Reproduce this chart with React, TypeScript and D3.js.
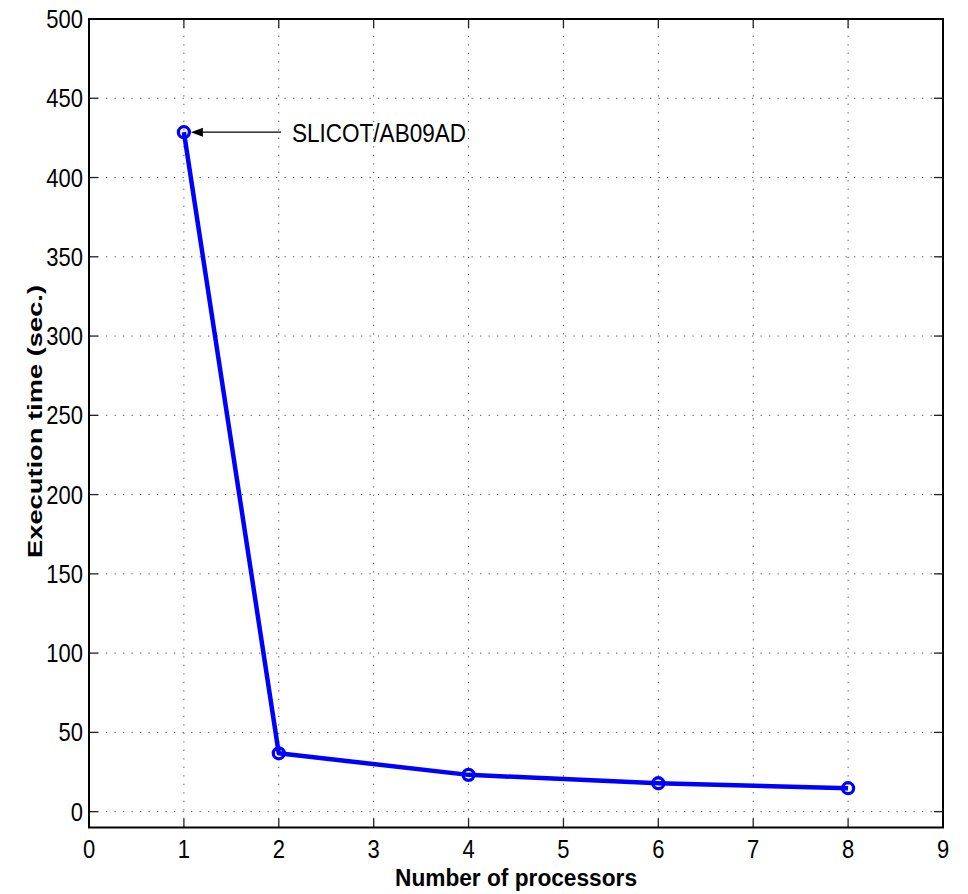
import React from "react";
import * as d3 from "d3";

// Execution time of the model reduction routine versus processor count
const processors = [1, 2, 4, 6, 8];
const execTime = [428.6, 36.8, 23.2, 17.9, 14.8];
const xTicks = [0, 1, 2, 3, 4, 5, 6, 7, 8, 9];
const yTicks = [0, 50, 100, 150, 200, 250, 300, 350, 400, 450, 500];
const annotationText = "SLICOT/AB09AD";
const xLabel = "Number of processors";
const yLabel = "Execution time (sec.)";

const W = 968;
const H = 894;
const left = 89;
const right = 943;
const top = 19;
const bottom = 827.5;

export default function App() {
  const x = d3.scaleLinear().domain([0, 9]).range([left, right]);
  const y = d3.scaleLinear().domain([-10, 500]).range([bottom, top]);

  const line = d3
    .line<number>()
    .x((_, i) => x(processors[i]))
    .y((d) => y(d));

  const tickLen = 9;
  const font = "'Liberation Sans', Arial, Helvetica, sans-serif";
  const stretch = 1.15;

  const ax = x(processors[0]);
  const ay = y(execTime[0]);

  return (
    <svg
      width={W}
      height={H}
      style={{ position: "absolute", left: 0, top: 0, background: "#fff" }}
      fontFamily={font}
    >
      <rect x={0} y={0} width={W} height={H} fill="#fff" />

      {/* dotted grid */}
      <g stroke="#222" strokeWidth={1} strokeDasharray="1.3 7.2" opacity={0.75}>
        {xTicks.slice(1, -1).map((t) => (
          <line key={"gx" + t} x1={x(t)} x2={x(t)} y1={bottom} y2={top} />
        ))}
        {yTicks.slice(0, -1).map((t) => (
          <line key={"gy" + t} x1={left} x2={right} y1={y(t)} y2={y(t)} />
        ))}
      </g>

      {/* inward ticks on all four sides */}
      <g stroke="#222" strokeWidth={1.3}>
        {xTicks.map((t) => (
          <g key={"tx" + t}>
            <line x1={x(t)} x2={x(t)} y1={bottom} y2={bottom - tickLen} />
            <line x1={x(t)} x2={x(t)} y1={top} y2={top + tickLen} />
          </g>
        ))}
        {yTicks.map((t) => (
          <g key={"ty" + t}>
            <line x1={left} x2={left + tickLen} y1={y(t)} y2={y(t)} />
            <line x1={right} x2={right - tickLen} y1={y(t)} y2={y(t)} />
          </g>
        ))}
      </g>

      {/* axes box */}
      <rect
        x={left}
        y={top}
        width={right - left}
        height={bottom - top}
        fill="none"
        stroke="#000"
        strokeWidth={2}
      />

      {/* tick labels */}
      <g fontSize={22} fill="#000">
        {xTicks.map((t) => (
          <text
            key={"lx" + t}
            transform={`translate(${x(t)}, 858) scale(1, ${stretch})`}
            textAnchor="middle"
          >
            {t}
          </text>
        ))}
        {yTicks.map((t) => (
          <text
            key={"ly" + t}
            transform={`translate(83, ${y(t) + 9}) scale(1, ${stretch})`}
            textAnchor="end"
          >
            {t}
          </text>
        ))}
      </g>

      {/* data series */}
      <path
        d={line(execTime) || ""}
        fill="none"
        stroke="#0000ff"
        strokeWidth={4.5}
        strokeLinejoin="round"
      />
      {execTime.map((v, i) => (
        <circle
          key={"m" + i}
          cx={x(processors[i])}
          cy={y(v)}
          r={5.5}
          fill="none"
          stroke="#0000ff"
          strokeWidth={3.3}
        />
      ))}

      {/* annotation arrow */}
      <line x1={281} x2={ax + 18} y1={ay} y2={ay} stroke="#000" strokeWidth={1.3} />
      <path
        d={`M${ax + 7},${ay} L${ax + 19},${ay - 4.5} L${ax + 19},${ay + 4.5} Z`}
        fill="#000"
      />
      <text
        transform={`translate(292, ${ay + 9.5}) scale(1, 1.2)`}
        fontSize={22}
        textLength={174}
        lengthAdjust="spacingAndGlyphs"
        fill="#000"
      >
        {annotationText}
      </text>

      {/* axis titles */}
      <text
        x={(395 + 637) / 2}
        y={886}
        textAnchor="middle"
        fontSize={23.5}
        fontWeight="bold"
        textLength={242}
        lengthAdjust="spacingAndGlyphs"
        fill="#000"
      >
        {xLabel}
      </text>
      <text
        transform={`translate(42, ${(285 + 558) / 2}) rotate(-90)`}
        textAnchor="middle"
        fontSize={20}
        fontWeight="bold"
        textLength={273}
        lengthAdjust="spacingAndGlyphs"
        fill="#000"
      >
        {yLabel}
      </text>
    </svg>
  );
}
